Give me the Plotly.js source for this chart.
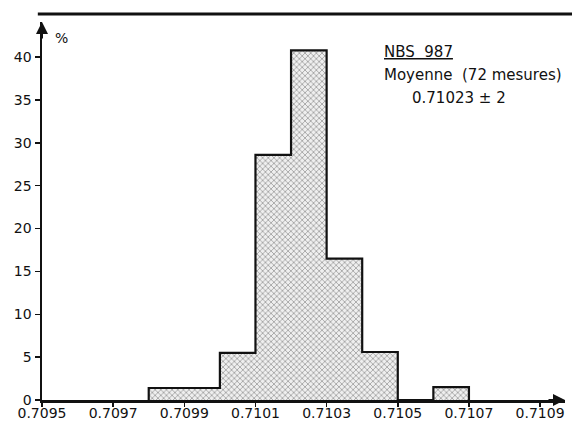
<!DOCTYPE html>
<html>
<head>
<meta charset="utf-8">
<script src="https://cdn.plot.ly/plotly-3.0.1.min.js"></script>
<style>html,body{margin:0;padding:0;background:#fff;}#chart{width:572px;height:425px;}</style>
</head>
<body>
<div id="chart"></div>
<script>
// Bin left edges (width 0.0001) and percentages
const binLeft = [0.7098, 0.7099, 0.7100, 0.7101, 0.7102, 0.7103, 0.7104, 0.7105, 0.7106];
const percent = [1.4, 1.4, 5.5, 28.6, 40.8, 16.5, 5.6, 0, 1.5];
const binWidth = 0.0001;
const xTicks = [0.7095, 0.7097, 0.7099, 0.7101, 0.7103, 0.7105, 0.7107, 0.7109];
const xTickText = ["0.7095", "0.7097", "0.7099", "0.7101", "0.7103", "0.7105", "0.7107", "0.7109"];
const yTicks = [0, 5, 10, 15, 20, 25, 30, 35, 40];

const centers = binLeft.map(l => l + binWidth / 2);

// outline of histogram (step)
const ox = [], oy = [];
ox.push(binLeft[0]); oy.push(0);
binLeft.forEach((l, i) => {
  ox.push(l); oy.push(percent[i]);
  ox.push(l + binWidth); oy.push(percent[i]);
});
ox.push(binLeft[binLeft.length - 1] + binWidth); oy.push(0);

const font = "DejaVu Sans, Liberation Sans, Arial, sans-serif";
const ink = '#111';

const data = [
  {
    type: 'bar', x: centers, y: percent, width: binWidth,
    marker: {color: '#ffffff', line: {width: 0},
      pattern: {shape: 'x', size: 4, solidity: 0.3, fgcolor: '#888888', bgcolor: '#efefef'}},
    hoverinfo: 'skip'
  },
  {
    type: 'scatter', mode: 'lines', x: ox, y: oy,
    line: {color: ink, width: 2.2}, hoverinfo: 'skip'
  }
];

const layout = {
  width: 572, height: 425,
  margin: {l: 42, r: 7, t: 22, b: 25},
  paper_bgcolor: '#fff', plot_bgcolor: '#fff',
  showlegend: false,
  bargap: 0,
  font: {family: font, size: 15, color: ink},
  xaxis: {
    range: [0.7095, 0.71097], tickvals: xTicks, ticktext: xTickText,
    showgrid: false, zeroline: false, showline: true, linecolor: ink, linewidth: 2.5,
    ticks: 'outside', ticklen: 4, tickwidth: 1.5, tickcolor: ink,
    ticklabelstandoff: -5,
    tickfont: {family: font, size: 14, color: ink}
  },
  yaxis: {
    range: [0, 44.1], tickvals: yTicks,
    showgrid: false, zeroline: false, showline: true, linecolor: ink, linewidth: 2.5,
    ticks: 'outside', ticklen: 5, tickwidth: 1.5, tickcolor: ink,
    tickfont: {family: font, size: 14, color: ink}
  },
  shapes: [
    {type: 'line', xref: 'paper', yref: 'paper', x0: -0.008, x1: 1.02, y0: 1.021, y1: 1.021,
     line: {color: ink, width: 3}}
  ],
  annotations: [
    {xref: 'paper', yref: 'paper', x: 0, y: 1.0, ax: 0, ay: 18, axref: 'pixel', ayref: 'pixel',
     showarrow: true, arrowhead: 2, arrowsize: 1.2, arrowwidth: 2, arrowcolor: ink, text: ''},
    {xref: 'paper', yref: 'paper', x: 1.0, y: 0, ax: -18, ay: 0,
     showarrow: true, arrowhead: 2, arrowsize: 1.2, arrowwidth: 2, arrowcolor: ink, text: ''},
    {xref: 'paper', yref: 'paper', x: 0.038, y: 0.958, xanchor: 'center', yanchor: 'middle',
     showarrow: false, text: '%', font: {family: font, size: 14, color: ink}},
    {xref: 'paper', yref: 'paper', x: 0.65, y: 0.92, xanchor: 'left', yanchor: 'middle',
     showarrow: false, text: '<u>NBS  987</u>', font: {family: font, size: 15, color: ink}},
    {xref: 'paper', yref: 'paper', x: 0.65, y: 0.86, xanchor: 'left', yanchor: 'middle',
     showarrow: false, text: 'Moyenne  (72 mesures)', font: {family: font, size: 15, color: ink}},
    {xref: 'paper', yref: 'paper', x: 0.704, y: 0.80, xanchor: 'left', yanchor: 'middle',
     showarrow: false, text: '0.71023 ± 2', font: {family: font, size: 15, color: ink}}
  ]
};

Plotly.newPlot('chart', data, layout, {displayModeBar: false, staticPlot: true});
</script>
</body>
</html>
